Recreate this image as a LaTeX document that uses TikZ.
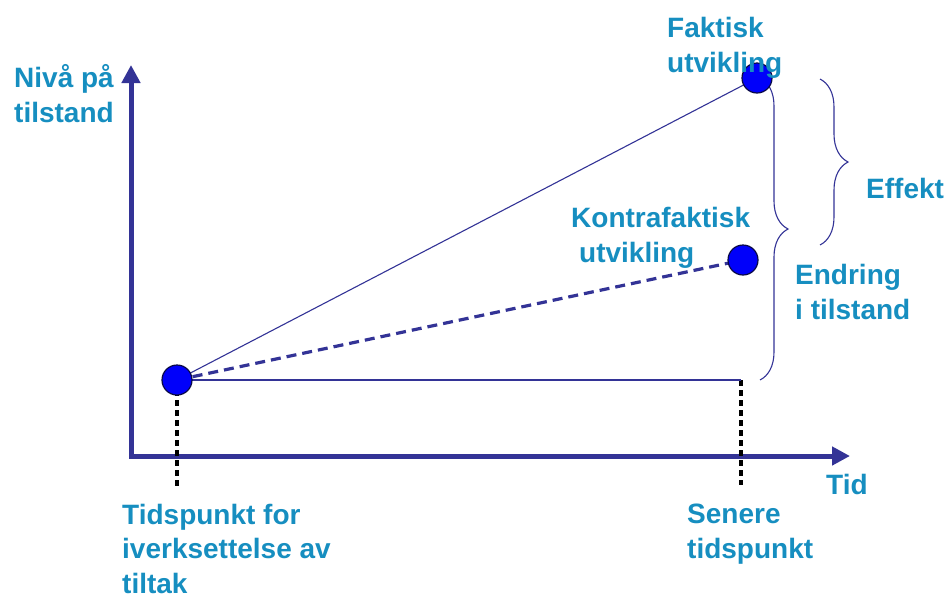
\documentclass[tikz,border=0pt]{standalone}
\usepackage{fontspec}
\setmainfont{Liberation Sans}
\usetikzlibrary{arrows.meta,decorations.pathreplacing}
\definecolor{axisblue}{RGB}{51,51,150}
\definecolor{txtblue}{RGB}{22,142,192}
\definecolor{dotblue}{RGB}{0,0,250}
\definecolor{dotedge}{RGB}{10,10,70}
\begin{document}
\begin{tikzpicture}[x=1pt,y=-1pt,
  lbl/.style={anchor=base west,inner sep=0pt,align=left,text=txtblue,
    font=\bfseries\fontsize{28}{34.5}\selectfont},
  axisline/.style={draw=axisblue,line width=5pt,
    {Triangle[length=18pt,width=18pt]}-{Triangle[length=18pt,width=18pt]}},
  thinline/.style={draw=axisblue,line width=1.1pt},
  dashline/.style={draw=axisblue,line width=3.2pt,dash pattern=on 10pt off 6pt},
  guide/.style={draw=black,line width=3.2pt,dash pattern=on 6pt off 4pt},
  bracestyle/.style={draw=axisblue,line width=1.1pt,decorate,
    decoration={brace,amplitude=28pt}},
  dot/.style={circle,minimum size=30pt,inner sep=0pt,fill=dotblue,
    draw=dotedge,line width=1.2pt}]
\useasboundingbox (0,0) rectangle (947,595);
% coordinates
\coordinate (ytip) at (131,65);
\coordinate (orig) at (131,456);
\coordinate (xtip) at (850,456);
\coordinate (hend) at (741,380);
\coordinate (g1end) at (177,487);
\coordinate (g2end) at (741,485);
\coordinate (bigtop) at (760,78);
\coordinate (bigbot) at (760,380);
\coordinate (smtop) at (820,79);
\coordinate (smbot) at (820,245);
\coordinate (sp) at (177,380);
\coordinate (fp) at (757,78);
\coordinate (kp) at (743,260);
% axes
\draw[axisline] (ytip) -- (orig) -- (xtip);
% braces
\draw[bracestyle] (bigtop) -- (bigbot);
\draw[bracestyle] (smtop) -- (smbot);
% guides
\draw[guide] (sp) -- (g1end);
\draw[guide] (hend) -- (g2end);
% lines
\draw[thinline] (sp) -- (fp);
\draw[thinline] (sp) -- (hend);
\draw[dashline] (sp) -- (kp);
% dots
\node[dot] (s) at (sp) {};
\node[dot] (f) at (fp) {};
\node[dot] (k) at (kp) {};
% labels (base = baseline of last line)
\node[lbl] (ny) at (14,122) {Nivå på\\tilstand};
\node[lbl] (fa) at (667,72) {Faktisk\\utvikling};
\node[lbl] (ko) at (571,262) {Kontrafaktisk\\\hspace*{8pt}utvikling};
\node[lbl] (ef) at (866,198) {Effekt};
\node[lbl] (en) at (795,319) {Endring\\i tilstand};
\node[lbl] (ti) at (826,494) {Tid};
\node[lbl] (se) at (687,558) {Senere\\tidspunkt};
\node[lbl] (tp) at (122,593) {Tidspunkt for\\iverksettelse av\\tiltak};
\end{tikzpicture}
\end{document}
